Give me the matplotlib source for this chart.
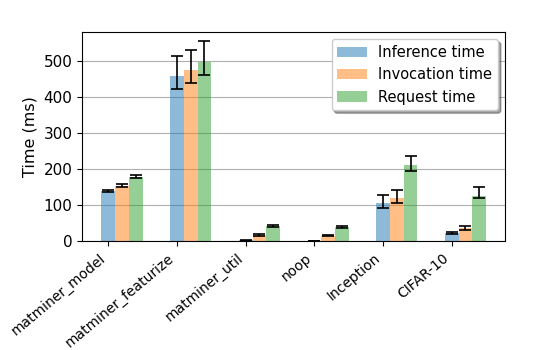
import numpy as np
import matplotlib
matplotlib.use("Agg")
import matplotlib.pyplot as plt

functions = ["matminer_model", "matminer_featurize", "matminer_util",
             "noop", "Inception", "CIFAR-10"]

inference = [138, 458, 2, 1, 107, 22]
inference_lo = [3, 35, 1, 0.5, 14, 3]
inference_hi = [3, 55, 1, 0.5, 22, 3]

invocation = [154, 474, 17, 15, 120, 36]
invocation_lo = [3, 36, 2, 2, 14, 5]
invocation_hi = [3, 55, 2, 2, 23, 5]

request = [179, 497, 41, 39, 211, 125]
request_lo = [4, 36, 3, 3, 17, 6]
request_hi = [4, 57, 3, 3, 24, 26]

fig = plt.figure(figsize=(5.41, 3.5), dpi=100)
ax = fig.add_axes([0.152, 0.311, 0.782, 0.598])

x = np.arange(len(functions))
w = 0.2
err_kw = dict(ecolor="black", capsize=4, elinewidth=1.2, capthick=1.2)

ax.bar(x, inference, w, yerr=[inference_lo, inference_hi], color="tab:blue",
       alpha=0.5, label="Inference time", error_kw=err_kw)
ax.bar(x + w, invocation, w, yerr=[invocation_lo, invocation_hi], color="tab:orange",
       alpha=0.5, label="Invocation time", error_kw=err_kw)
ax.bar(x + 2 * w, request, w, yerr=[request_lo, request_hi], color="tab:green",
       alpha=0.5, label="Request time", error_kw=err_kw)

ax.set_xticks(x)
ax.set_xticklabels(functions, rotation=40, ha="right", fontsize=10)
ax.set_xlim(-0.38, 5.78)
ax.set_ylim(0, 580)
ax.tick_params(axis="y", labelsize=11)
ax.set_ylabel("Time (ms)", fontsize=11.5)
ax.yaxis.grid(True, color="#b0b0b0", linewidth=0.8)
ax.set_axisbelow(True)
ax.legend(loc="upper right", shadow=True, fontsize=10.5)

fig.savefig("out.png", dpi=100)
